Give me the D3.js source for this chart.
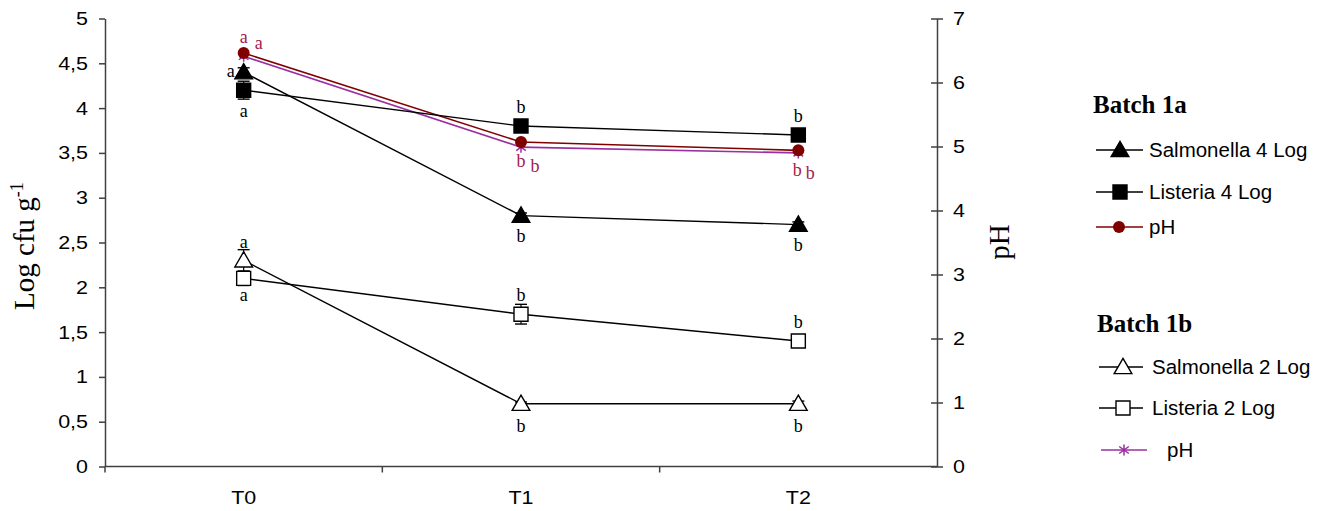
<!DOCTYPE html>
<html><head><meta charset="utf-8">
<script src="https://cdn.jsdelivr.net/npm/d3@7"></script>
<style>html,body{margin:0;padding:0;background:#fff;}svg{display:block;}</style>
</head><body>
<svg id="chart" width="1327" height="511"></svg>
<script>
// ---------- data ----------
const categories = ["T0", "T1", "T2"];
const salmonella4 = [4.4, 2.8, 2.7];
const salmonella4Err = [0.05, 0.03, 0.03];
const listeria4 = [4.2, 3.8, 3.7];
const listeria4Err = [0.1, 0.02, 0.02];
const pH1a = [6.46, 5.07, 4.94];
const salmonella2 = [2.3, 0.7, 0.7];
const salmonella2Err = [0.12, 0.02, 0.03];
const listeria2 = [2.1, 1.7, 1.4];
const listeria2Err = [0.08, 0.11, 0.05];
const pH1b = [6.41, 4.99, 4.9];
const lettersS4 = ["a", "b", "b"];
const lettersL4 = ["a", "b", "b"];
const lettersPH1a = ["a", "b", "b"];
const lettersPH1b = ["a", "b", "b"];
const lettersS2 = ["a", "b", "b"];
const lettersL2 = ["a", "b", "b"];
const leftTicks = [0, 0.5, 1, 1.5, 2, 2.5, 3, 3.5, 4, 4.5, 5];
const rightTicks = [0, 1, 2, 3, 4, 5, 6, 7];
const legendGroups = ["Batch 1a", "Batch 1b"];
const legendLabels1a = ["Salmonella 4 Log", "Listeria 4 Log", "pH"];
const legendLabels1b = ["Salmonella 2 Log", "Listeria 2 Log", "pH"];

// ---------- setup ----------
const svg = d3.select("#chart");
const SANS = "'Liberation Sans', Arial, sans-serif";
const SERIF = "'Liberation Serif', 'Times New Roman', serif";
const AXC = "#404040";
const PH1A = "#800000", PH1B = "#9a2fa0", PHTXT = "#a3204e";

const x = d3.scaleBand().domain(categories).range([105, 937]).padding(0);
const cx = c => x(c) + x.bandwidth() / 2;
const yL = d3.scaleLinear().domain([0, 5]).range([466.5, 18.5]);
const yR = d3.scaleLinear().domain([0, 7]).range([466.5, 18.5]);

function stretch(sel, k) {
  sel.each(function () {
    const t = d3.select(this);
    const tx = +(t.attr("x") || 0), ty = +(t.attr("y") || 0);
    t.attr("x", 0).attr("y", 0).attr("transform", `translate(${tx},${ty}) scale(${k},1)`);
  });
}

// ---------- axes ----------
const gL = svg.append("g").attr("transform", "translate(105,0)")
  .call(d3.axisLeft(yL).tickValues(leftTicks).tickSize(6).tickSizeOuter(0).tickPadding(11)
    .tickFormat(d => String(d).replace(".", ",")));
const gR = svg.append("g").attr("transform", "translate(937,0)")
  .call(d3.axisRight(yR).tickValues(rightTicks).tickSize(6).tickSizeOuter(0).tickPadding(10)
    .tickFormat(d3.format("d")));
gR.selectAll(".tick line").attr("x1", -6);
[gL, gR].forEach(g => {
  g.select(".domain").attr("stroke", AXC).attr("stroke-width", 1.5);
  g.selectAll(".tick line").attr("stroke", AXC).attr("stroke-width", 1.5);
  g.selectAll(".tick text").attr("fill", "#000").style("font-family", SANS).style("font-size", "19px");
  stretch(g.selectAll(".tick text"), 1.13);
});
// left axis slight extension below baseline
svg.append("line").attr("x1", 105).attr("x2", 105).attr("y1", yL(0)).attr("y2", yL(0) + 6)
  .attr("stroke", AXC).attr("stroke-width", 1.5);

// x axis
const gX = svg.append("g");
gX.append("line").attr("x1", x.range()[0]).attr("x2", x.range()[1]).attr("y1", yL(0)).attr("y2", yL(0))
  .attr("stroke", AXC).attr("stroke-width", 1.5);
categories.slice(1).forEach(c => {
  gX.append("line").attr("x1", x(c)).attr("x2", x(c)).attr("y1", yL(0)).attr("y2", yL(0) + 6)
    .attr("stroke", AXC).attr("stroke-width", 1.5);
});
const xt = gX.selectAll("text.xl").data(categories).join("text").attr("class", "xl")
  .attr("x", d => cx(d)).attr("y", 504).attr("text-anchor", "middle")
  .style("font-family", SANS).style("font-size", "19px").text(d => d);
stretch(xt, 1.13);

// axis titles
const yt = svg.append("text").attr("transform", "translate(34,246) rotate(-90)")
  .attr("text-anchor", "middle").style("font-family", SERIF).style("font-size", "29px");
yt.append("tspan").text("Log cfu g");
yt.append("tspan").attr("dy", -11).style("font-size", "18px").text("-1");
svg.append("text").attr("transform", "translate(1009,242) rotate(-90)")
  .attr("text-anchor", "middle").style("font-family", SERIF).style("font-size", "29px").text("pH");

// ---------- marks ----------
const triPath = d3.symbol().type(d3.symbolTriangle).size(135)();
const sqPath = d3.symbol().type(d3.symbolSquare).size(196)();
const starPath = "M0,-5.5V5.5M-4.8,-3.5L4.8,3.5M-4.8,3.5L4.8,-3.5";

function drawMarker(g, type, px, py, filled, color) {
  if (type === "tri") {
    g.append("path").attr("d", triPath).attr("transform", `translate(${px},${py + 1.5})`)
      .attr("fill", filled ? "#000" : "#fff").attr("stroke", "#000").attr("stroke-width", 1.4);
  } else if (type === "sq") {
    g.append("path").attr("d", sqPath).attr("transform", `translate(${px},${py})`)
      .attr("fill", filled ? "#000" : "#fff").attr("stroke", "#000").attr("stroke-width", 1.4);
  } else if (type === "circ") {
    g.append("circle").attr("cx", px).attr("cy", py).attr("r", 6).attr("fill", color);
  } else if (type === "star") {
    g.append("path").attr("d", starPath).attr("transform", `translate(${px},${py})`)
      .attr("fill", "none").attr("stroke", color).attr("stroke-width", 1.5);
  }
}

const series = [
  { vals: pH1b, scale: yR, color: PH1B, type: "star", width: 1.6 },
  { vals: pH1a, scale: yR, color: PH1A, type: "circ", width: 1.6 },
  { vals: listeria4, err: listeria4Err, scale: yL, color: "#000", type: "sq", filled: true, width: 1.4 },
  { vals: salmonella4, err: salmonella4Err, scale: yL, color: "#000", type: "tri", filled: true, width: 1.4 },
  { vals: listeria2, err: listeria2Err, scale: yL, color: "#000", type: "sq", filled: false, width: 1.4 },
  { vals: salmonella2, err: salmonella2Err, scale: yL, color: "#000", type: "tri", filled: false, width: 1.4 },
];

const gLines = svg.append("g"), gErr = svg.append("g"), gMk = svg.append("g");
series.forEach(s => {
  const line = d3.line().x((d, i) => cx(categories[i])).y(d => s.scale(d));
  gLines.append("path").attr("d", line(s.vals)).attr("fill", "none")
    .attr("stroke", s.color).attr("stroke-width", s.width);
  if (s.err) {
    s.vals.forEach((v, i) => {
      const px = cx(categories[i]);
      const y1 = s.scale(v + s.err[i]), y2 = s.scale(v - s.err[i]);
      gErr.append("line").attr("x1", px).attr("x2", px).attr("y1", y1).attr("y2", y2).attr("stroke", "#000").attr("stroke-width", 1.2);
      [y1, y2].forEach(yy => gErr.append("line").attr("x1", px - 6).attr("x2", px + 6).attr("y1", yy).attr("y2", yy)
        .attr("stroke", "#000").attr("stroke-width", 1.4));
    });
  }
});
// markers drawn in order: bottom batch first, then pH on top
[series[5], series[4], series[3], series[2], series[0], series[1]].forEach(s => {
  s.vals.forEach((v, i) => drawMarker(gMk, s.type, cx(categories[i]), s.scale(v), s.filled, s.color));
});

// ---------- significance letters ----------
const gLet = svg.append("g").style("font-family", SERIF).style("font-size", "18px").attr("text-anchor", "middle");
function letters(arr, vals, scale, color, offs) {
  arr.forEach((t, i) => {
    const o = offs[i];
    gLet.append("text").attr("x", cx(categories[i]) + o[0]).attr("y", scale(vals[i]) + o[1])
      .attr("dy", "0.3em").attr("fill", color).text(t);
  });
}
letters(lettersS4, salmonella4, yL, "#000", [[-13, -1], [0, 21], [0, 21]]);
letters(lettersL4, listeria4, yL, "#000", [[0, 21], [0, -18], [0, -18]]);
letters(lettersPH1a, pH1a, yR, PHTXT, [[0, -15], [0, 20], [-1, 20]]);
letters(lettersPH1b, pH1b, yR, PHTXT, [[15, -13], [14, 19], [12, 21]]);
letters(lettersS2, salmonella2, yL, "#000", [[0, -18], [0, 23], [0, 23]]);
letters(lettersL2, listeria2, yL, "#000", [[0, 17], [0, -19], [0, -18]]);

// ---------- legend ----------
const gLeg = svg.append("g");
const legRows = [
  { group: 0, label: legendLabels1a[0], type: "tri", filled: true, color: "#000", y: 150, x1: 1096, x2: 1143, mx: 1120, tx: 1149 },
  { group: 0, label: legendLabels1a[1], type: "sq", filled: true, color: "#000", y: 192, x1: 1096, x2: 1143, mx: 1120, tx: 1149 },
  { group: 0, label: legendLabels1a[2], type: "circ", color: PH1A, y: 227, x1: 1096, x2: 1143, mx: 1119, tx: 1149 },
  { group: 1, label: legendLabels1b[0], type: "tri", filled: false, color: "#000", y: 367, x1: 1099, x2: 1143, mx: 1123, tx: 1152 },
  { group: 1, label: legendLabels1b[1], type: "sq", filled: false, color: "#000", y: 408, x1: 1099, x2: 1143, mx: 1123, tx: 1152 },
  { group: 1, label: legendLabels1b[2], type: "star", color: PH1B, y: 450, x1: 1101, x2: 1147, mx: 1124, tx: 1167 },
];
[[legendGroups[0], 1093, 113], [legendGroups[1], 1097, 332]].forEach(([t, lx, ly]) => {
  gLeg.append("text").attr("x", lx).attr("y", ly).style("font-family", SERIF).style("font-size", "25px")
    .style("font-weight", "bold").text(t);
});
legRows.forEach(r => {
  gLeg.append("line").attr("x1", r.x1).attr("x2", r.x2).attr("y1", r.y).attr("y2", r.y)
    .attr("stroke", r.color).attr("stroke-width", 1.4);
  drawMarker(gLeg, r.type, r.mx, r.y, r.filled, r.color);
  gLeg.append("text").attr("x", r.tx).attr("y", r.y).attr("dy", "0.35em")
    .style("font-family", SANS).style("font-size", "20.5px").text(r.label);
});
</script>
</body></html>
